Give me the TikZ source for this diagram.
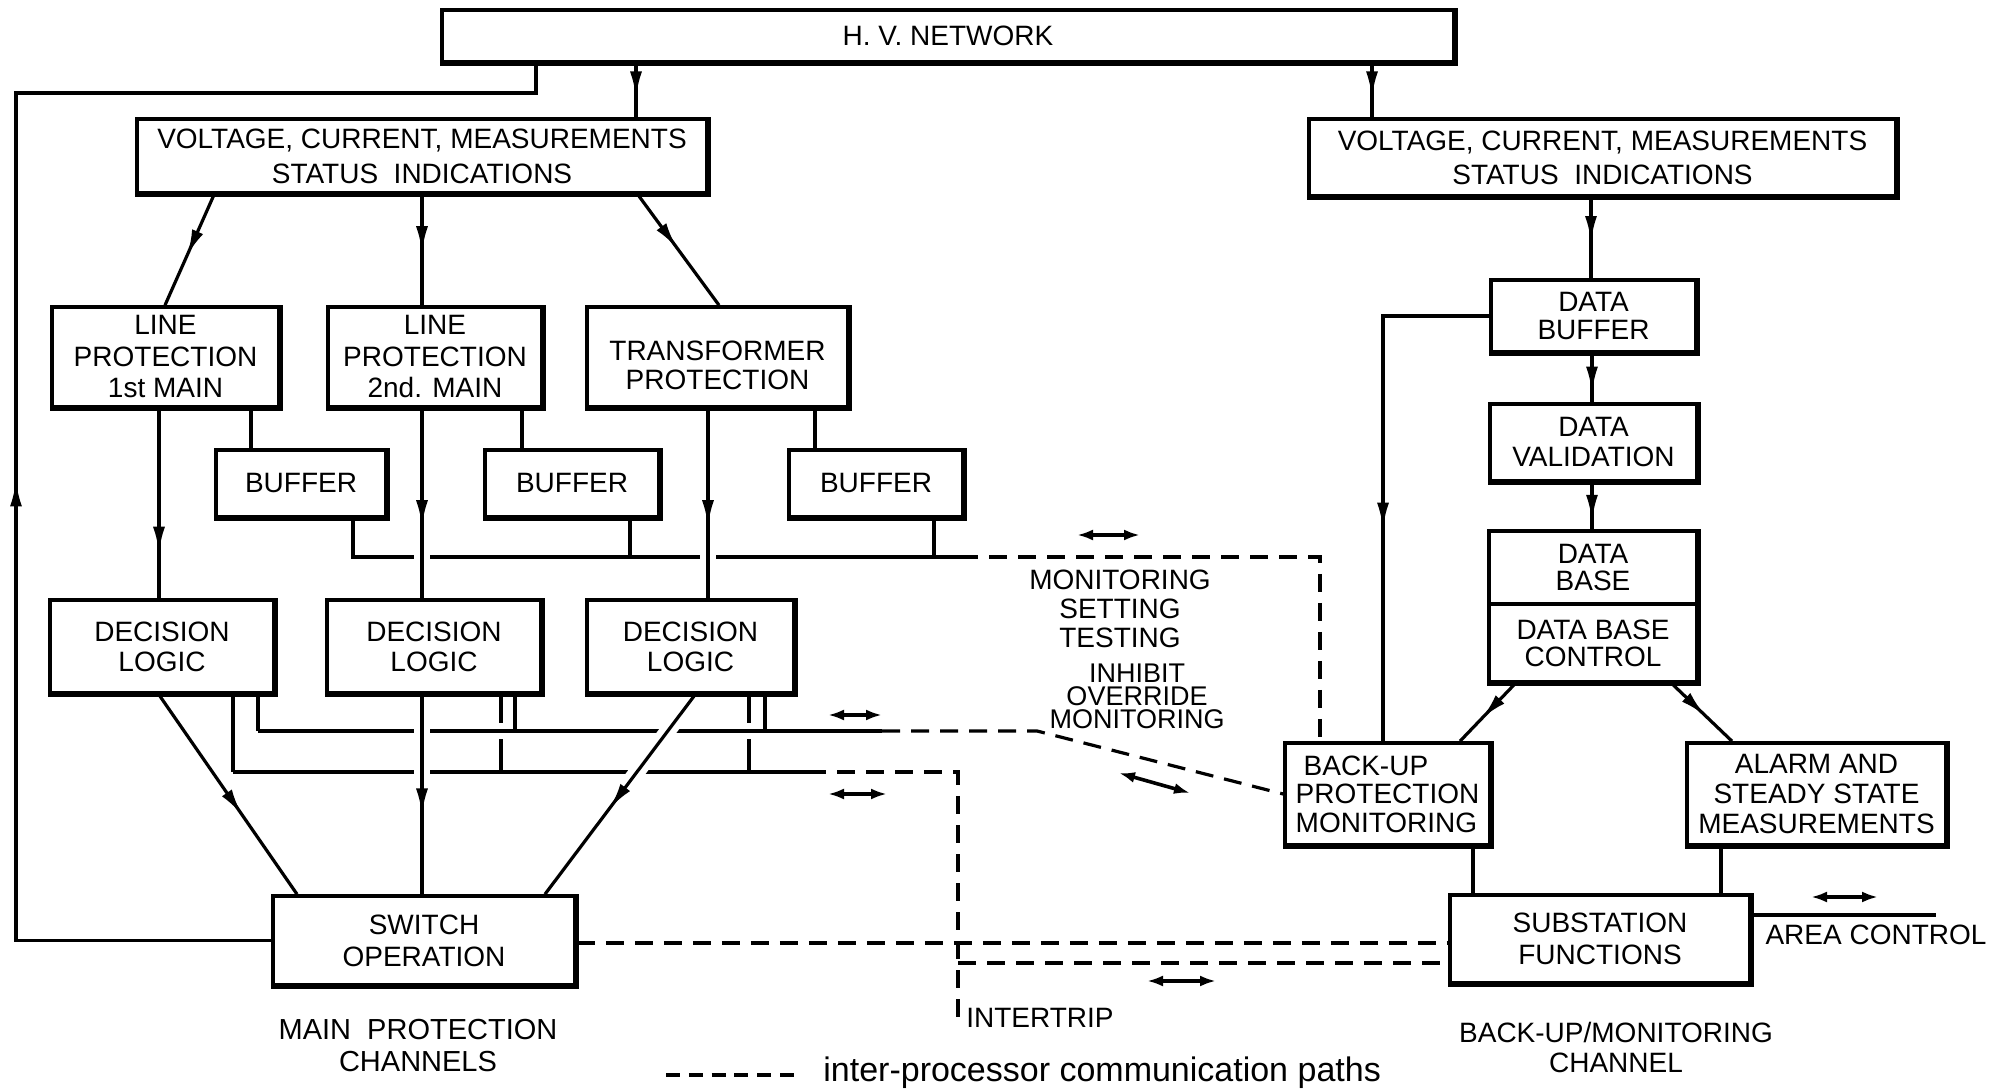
\documentclass[tikz,border=0pt]{standalone}
\usepackage{fontspec}
\setmainfont{Liberation Sans}
\usetikzlibrary{arrows.meta,decorations.markings}
\pgfdeclarelayer{bg}
\pgfsetlayers{bg,main}

\tikzset{
  blk/.style={draw, line width=1.8pt, fill=white, inner sep=0pt, align=center,
              font=\fontsize{14}{15.5}\selectfont},
  link/.style={line width=1.6pt},
  midarrow/.style={postaction={decorate},
    decoration={markings, mark=at position #1 with {\arrow{Latex[length=13pt,width=6pt]}}}},
  erasebg/.style={preaction={draw=white, line width=8pt}},
  comm/.style={line width=1.6pt, dash pattern=on 9pt off 5.5pt},
  twoway/.style={line width=1.8pt, arrows={Latex[length=8pt,width=5.5pt]-Latex[length=8pt,width=5.5pt]}},
  lbl/.style={font=\fontsize{14}{15.5}\selectfont, align=center, inner sep=0pt},
}

\begin{document}
\begin{tikzpicture}[x=0.5pt,y=-0.5pt]
\useasboundingbox (0,0) rectangle (2009,1090);

% ---------- blocks ----------
\node[blk, minimum width=506pt, minimum height=26pt] (hv) at (948,36) {H. V. NETWORK};

\node[blk, minimum width=285pt, minimum height=37pt, font=\fontsize{14}{17.5}\selectfont]
  (voltL) at (422,156) {VOLTAGE, CURRENT, MEASUREMENTS\\STATUS\ \ INDICATIONS};
\node[blk, minimum width=293.5pt, minimum height=38.5pt, font=\fontsize{14}{17}\selectfont]
  (voltR) at (1602.5,157.5) {VOLTAGE, CURRENT, MEASUREMENTS\\STATUS\ \ INDICATIONS};

\node[blk, minimum width=113.5pt, minimum height=50pt, font=\fontsize{14}{15.75}\selectfont]
  (lp1) at (165.5,357) {LINE\\PROTECTION\\1st MAIN};
\node[blk, minimum width=107pt, minimum height=50pt, font=\fontsize{14}{15.75}\selectfont]
  (lp2) at (435,357) {LINE\\PROTECTION\\2nd. MAIN};
\node[blk, minimum width=130.5pt, minimum height=50pt] (tp) at (717.5,357) {};
\node[lbl, font=\fontsize{14}{14.5}\selectfont, yshift=-4.25pt] (tptext) at (tp.center)
  {TRANSFORMER\\PROTECTION};

\node[blk, minimum width=85pt, minimum height=33.5pt] (buf1) at (301,483.5) {BUFFER};
\node[blk, minimum width=87pt, minimum height=33.5pt] (buf2) at (572,483.5) {BUFFER};
\node[blk, minimum width=87pt, minimum height=33.5pt] (buf3) at (876,483.5) {BUFFER};

\node[blk, minimum width=112pt, minimum height=46.5pt, font=\fontsize{14}{15}\selectfont]
  (dl1) at (162,646.5) {DECISION\\LOGIC};
\node[blk, minimum width=107pt, minimum height=46.5pt, font=\fontsize{14}{15}\selectfont]
  (dl2) at (434,646.5) {DECISION\\LOGIC};
\node[blk, minimum width=103.5pt, minimum height=46.5pt, font=\fontsize{14}{15}\selectfont]
  (dl3) at (690.5,646.5) {DECISION\\LOGIC};

\node[blk, minimum width=151pt, minimum height=44.5pt, font=\fontsize{14}{16}\selectfont]
  (sw) at (424,940.5) {SWITCH\\OPERATION};

\node[blk, minimum width=102.5pt, minimum height=36pt, font=\fontsize{14}{14}\selectfont]
  (dbuf) at (1593.5,316) {DATA\\BUFFER};
\node[blk, minimum width=103.5pt, minimum height=38.5pt, font=\fontsize{14}{15}\selectfont]
  (dval) at (1593.5,442.5) {DATA\\VALIDATION};
\node[blk, minimum width=104pt, minimum height=36.5pt, font=\fontsize{14}{13.5}\selectfont]
  (dbase) at (1593,567.5) {DATA\\BASE};
\node[blk, minimum width=104pt, minimum height=39pt, font=\fontsize{14}{13.5}\selectfont]
  (dbctl) at (1593,643) {DATA BASE\\CONTROL};

\node[blk, minimum width=102.5pt, minimum height=51pt, align=left, font=\fontsize{14}{14.25}\selectfont]
  (bkup) at (1387.5,794) {\hspace{4pt}BACK-UP\\PROTECTION\\MONITORING};
\node[blk, minimum width=129.5pt, minimum height=51pt, font=\fontsize{14}{15}\selectfont]
  (alarm) at (1816.5,794) {ALARM AND\\STEADY STATE\\MEASUREMENTS};
\node[blk, minimum width=150pt, minimum height=44pt, font=\fontsize{14}{16}\selectfont]
  (sub) at (1600,939) {SUBSTATION\\FUNCTIONS};

% heavier pen stroke on the lower and right edges of the blocks
\foreach \n in {hv,voltL,voltR,lp1,lp2,tp,buf1,buf2,buf3,dl1,dl2,dl3,sw,dbuf,dval,bkup,alarm,sub}
  \draw[line width=0.9pt] ([xshift=0.45pt]\n.north east) -- ([shift={(0.45pt,-0.45pt)}]\n.south east)
        -- ([yshift=-0.45pt]\n.south west);
\draw[line width=0.9pt] ([xshift=0.45pt]dbase.north east) -- ([shift={(0.45pt,-0.45pt)}]dbctl.south east)
      -- ([yshift=-0.45pt]dbctl.south west);

% ---------- free labels ----------
\node[lbl, font=\fontsize{14}{14.5}\selectfont] (mst) at (1120,609) {MONITORING\\SETTING\\TESTING};
\node[lbl, font=\fontsize{13.5}{11.5}\selectfont] (iom) at (1137,696) {INHIBIT\\OVERRIDE\\MONITORING};
\node[lbl] (itrip) at (1040,1018) {INTERTRIP};
\node[lbl, font=\fontsize{14.5}{16}\selectfont] (mpc) at (418,1046) {MAIN\ \ PROTECTION\\CHANNELS};
\node[lbl, font=\fontsize{14}{15}\selectfont] (bmc) at (1616,1047) {BACK-UP/MONITORING\\CHANNEL};
\node[lbl] (area) at (1876,935) {AREA CONTROL};
\node[lbl, anchor=west, font=\fontsize{17}{20}\selectfont] (legend) at (823,1073)
  {inter-processor communication paths};
\draw[line width=1.6pt, dash pattern=on 7pt off 4.4pt] (666,1075) -- (797,1075);

% ---------- connectors ----------
\begin{pgfonlayer}{bg}
% trip feedback into the network
\draw[link, midarrow=0.433] (sw.west) -| (16,93) -| (536,0 |- hv.south);
% measurements
\draw[link, midarrow=0.63] (636,0 |- hv.south) -- (636,0 |- voltL.north);
\draw[link, midarrow=0.63] (1372,0 |- hv.south) -- (1372,0 |- voltR.north);
\draw[link, midarrow=0.55] (214,0 |- voltL.south) -- (165,0 |- lp1.north);
\draw[link, midarrow=0.52] (422,0 |- voltL.south) -- (422,0 |- lp2.north);
\draw[link, midarrow=0.48] (638,0 |- voltL.south) -- (719,0 |- tp.north);
% protection to buffers
\draw[link] (251,0 |- lp1.south) -- (251,0 |- buf1.north);
\draw[link] (522,0 |- lp2.south) -- (522,0 |- buf2.north);
\draw[link] (815,0 |- tp.south) -- (815,0 |- buf3.north);
% buffer bus
\draw[link] (353,0 |- buf1.south) |- (960,557);
\draw[link] (630,0 |- buf2.south) -- (630,557);
\draw[link] (934,0 |- buf3.south) -- (934,557);
\draw[comm] (960,557) -| (1320,0 |- bkup.north);
% protection to decision logic
\draw[link, midarrow=0.76] (159,0 |- lp1.south) -- (159,0 |- dl1.north);
\draw[link, erasebg, midarrow=0.62] (422,0 |- lp2.south) -- (422,0 |- dl2.north);
\draw[link, erasebg, midarrow=0.62] (708,0 |- tp.south) -- (708,0 |- dl3.north);
% decision logic buses
\coordinate (tripend) at (958,1027);
\draw[link] (233,0 |- dl1.south) -- (233,772);
\draw[link] (501,0 |- dl2.south) -- (501,772);
\draw[link] (749,0 |- dl3.south) -- (749,772);
\draw[link] (233,772) -- (808,772);
\draw[comm] (808,772) -| (tripend);
\draw[link, erasebg] (258,731) -- (882,731);
\draw[comm] (882,731) -- (1037,731) -- (bkup.west);
\draw[link] (258,0 |- dl1.south) -- (258,731);
\draw[link] (515,0 |- dl2.south) -- (515,731);
\draw[link] (765,0 |- dl3.south) -- (765,731);
% decision logic to switch operation
\draw[link, erasebg, midarrow=0.6] (159,0 |- dl1.south) -- (297,0 |- sw.north);
\draw[link, erasebg, midarrow=0.6] (422,0 |- dl2.south) -- (422,0 |- sw.north);
\draw[link, erasebg, midarrow=0.57] (695,0 |- dl3.south) -- (545,0 |- sw.north);
% links to the substation
\draw[comm] (sw.east |- 0,943) -- (sub.west |- 0,943);
\draw[comm] (958,963) -- (sub.west |- 0,963);
% back-up / monitoring channel
\draw[link, midarrow=0.55] (1591,0 |- voltR.south) -- (1591,0 |- dbuf.north);
\draw[link, midarrow=0.8] (1592,0 |- dbuf.south) -- (1592,0 |- dval.north);
\draw[link, midarrow=0.82] (1592,0 |- dval.south) -- (1592,0 |- dbase.north);
\draw[link, midarrow=0.6] (dbuf.west) -| (1383,0 |- bkup.north);
\draw[link, midarrow=0.6] (1515,0 |- dbctl.south) -- (1460,0 |- bkup.north);
\draw[link, midarrow=0.55] (1672,0 |- dbctl.south) -- (1732,0 |- alarm.north);
\draw[link] (1473,0 |- bkup.south) -- (1473,0 |- sub.north);
\draw[link] (1721,0 |- alarm.south) -- (1721,0 |- sub.north);
\coordinate (areaend) at (1936,915);
\draw[link] (sub.east |- areaend) -- (areaend);
% two-way traffic marks
\draw[twoway] (1077,535) -- (1140,535);
\draw[twoway] (828,715) -- (882,715);
\draw[twoway] (828,794) -- (887,794);
\draw[twoway] (1119,773) -- (1190,793);
\draw[twoway] (1147,981) -- (1216,981);
\draw[twoway] (1811,897) -- (1878,897);
\end{pgfonlayer}
\end{tikzpicture}
\end{document}
